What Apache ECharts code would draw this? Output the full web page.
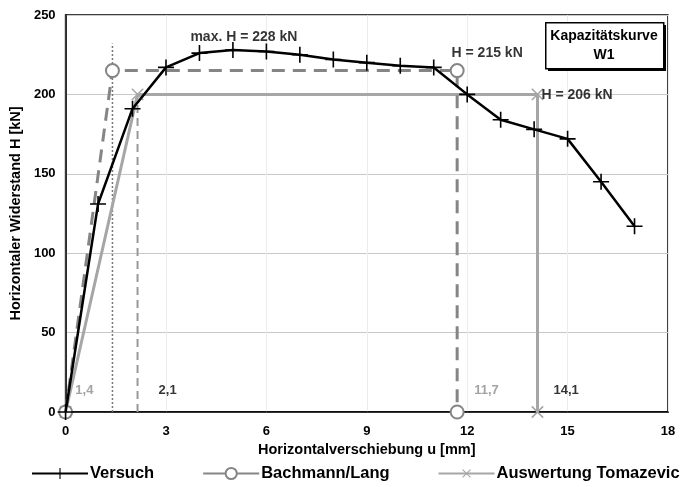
<!DOCTYPE html>
<html><head><meta charset="utf-8">
<script src="https://cdn.jsdelivr.net/npm/echarts@6/dist/echarts.min.js"></script>
<style>html,body{margin:0;padding:0;background:#fff}#c{width:690px;height:487px}</style>
</head><body><div id="c"></div>
<script>
const versuch = [[0,0],[0.97,131],[2.0,191],[3,217],[4,226],[5,228],[6,227],[7,225],[8,222],[9,220],[10,218],[11,217],[12,200],[13,184],[14,178],[15,172],[16,145],[17,117]];
const bachmann = [[0,0],[1.4,215],[11.7,215],[11.7,0]];
const tomazevic = [[0,0],[2.15,200],[14.1,200],[14.1,0]];
const dottedLine = [[1.4,0],[1.4,232]];
const dashedLine = [[2.15,0],[2.15,200]];
const xTicks = {min:0,max:18,interval:3};
const yTicks = {min:0,max:250,interval:50};
const annotations = [
  {name:'max. H = 228 kN', value:[5,228], color:'#000', pos:'top', off:[11,-1], size:14},
  {name:'H = 215 kN', value:[11.7,215], color:'#000', pos:'top', off:[30,-5], size:14},
  {name:'H = 206 kN', value:[14.1,200], color:'#000', pos:'right', off:[-1,1], size:14},
  {name:'1,4', value:[1.4,0], color:'#8c8c8c', pos:'insideBottomRight', off:[-14,-10], size:13},
  {name:'2,1', value:[2.15,0], color:'#000', pos:'insideBottomLeft', off:[16,-10], size:13},
  {name:'11,7', value:[11.7,0], color:'#8c8c8c', pos:'insideBottomLeft', off:[12,-10], size:13},
  {name:'14,1', value:[14.1,0], color:'#000', pos:'insideBottomLeft', off:[11,-10], size:13}
];
const plusPath = 'path://M-1,-10L1,-10L1,10L-1,10ZM-10,-1L10,-1L10,1L-10,1Z';
const FONT = '"Liberation Sans", Arial, sans-serif';
const chart = echarts.init(document.getElementById('c'));
chart.setOption({
  animation:false,
  textStyle:{fontFamily:FONT},
  grid:{left:65,right:22,top:15,bottom:75,show:true,borderColor:'#000',borderWidth:1.5,backgroundColor:'#fff'},
  xAxis:{type:'value',min:xTicks.min,max:xTicks.max,interval:xTicks.interval,
    name:'Horizontalverschiebung u [mm]',nameLocation:'middle',nameGap:30,
    nameTextStyle:{fontWeight:'bold',fontSize:14.5,color:'#000'},
    axisLine:{lineStyle:{color:'#000',width:1.5}},axisTick:{show:false},
    axisLabel:{fontWeight:'bold',fontSize:13,color:'#000',margin:13},
    splitLine:{show:true,lineStyle:{color:'#ececec',width:1}}},
  yAxis:{type:'value',min:yTicks.min,max:yTicks.max,interval:yTicks.interval,
    name:'Horizontaler Widerstand H [kN]',nameLocation:'middle',nameGap:32,
    nameTextStyle:{fontWeight:'bold',fontSize:14.5,color:'#000'},
    axisLine:{lineStyle:{color:'#000',width:1.5}},axisTick:{show:false},
    axisLabel:{fontWeight:'bold',fontSize:13,color:'#000',margin:10},
    splitLine:{show:true,lineStyle:{color:'#c8c8c8',width:1}}},
  legend:{bottom:0,left:26,width:670,itemGap:48,itemWidth:56,itemHeight:14,
    textStyle:{fontWeight:'bold',fontSize:16.5,color:'#000',fontFamily:FONT,padding:[0,0,0,-3]},
    data:[{name:'Versuch'},{name:'Bachmann/Lang',lineStyle:{type:'solid'}},{name:'Auswertung Tomazevic'}]},
  graphic:[
    {type:'rect',left:548,top:25,shape:{width:118,height:46},style:{fill:'#000'},z:10},
    {type:'rect',left:545,top:22,shape:{width:118,height:46},style:{fill:'#fff',stroke:'#000',lineWidth:1.5},z:11},
    {type:'text',x:604,y:27,z:12,style:{text:'Kapazitätskurve\nW1',fill:'#000',font:'bold 14px '+FONT,textAlign:'center',lineHeight:19}}
  ],
  series:[
    {type:'line',name:'dotted',data:dottedLine,symbol:'none',silent:true,z:1,
      lineStyle:{color:'#777',width:1.5,type:[2,2]}},
    {type:'line',name:'dashed',data:dashedLine,symbol:'none',silent:true,z:1,
      lineStyle:{color:'#999',width:2,type:[8,5]}},
    {type:'line',name:'Auswertung Tomazevic',data:tomazevic,z:2,
      symbol:plusPath,symbolSize:16,symbolRotate:45,
      itemStyle:{color:'#a6a6a6'},lineStyle:{color:'#a6a6a6',width:3}},
    {type:'line',name:'Bachmann/Lang',data:bachmann,z:3,
      symbol:'emptyCircle',symbolSize:13,
      itemStyle:{color:'#858585',borderWidth:1.5,borderColor:'#858585'},
      lineStyle:{color:'#858585',width:3,type:[13,8]}},
    {type:'line',name:'Versuch',data:versuch,z:4,
      symbol:plusPath,symbolSize:16,
      itemStyle:{color:'#000'},lineStyle:{color:'#000',width:2.5}},
    {type:'scatter',name:'ann',silent:true,symbolSize:0,z:6,
      data:annotations.map(a=>({name:a.name,value:a.value,
        label:{show:true,formatter:'{b}',position:a.pos,offset:a.off,color:a.color,
          fontWeight:'bold',fontSize:a.size,fontFamily:FONT}}))}
  ]
});
</script></body></html>
